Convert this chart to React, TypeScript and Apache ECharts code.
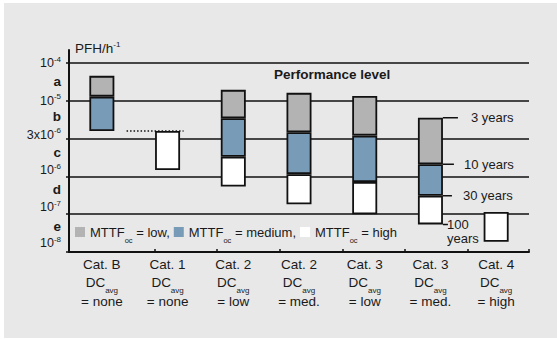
import React, { useEffect, useRef } from 'react';
import * as echarts from 'echarts';

// ---- data ----
const categories = ['Cat. B', 'Cat. 1', 'Cat. 2', 'Cat. 2', 'Cat. 3', 'Cat. 3', 'Cat. 4'];
const dcAvg = ['none', 'none', 'low', 'med.', 'low', 'med.', 'high'];
// positions on the PL scale: 0 = 10^-8, 1 = 10^-7, 2 = 10^-6, 3 = 3x10^-6, 4 = 10^-5, 5 = 10^-4
const barBottom = [3.2, 2.17, 1.73, 1.26, 1.0, 0.73, 0.27];
const highTop: (number | null)[] = [null, 3.2, 2.52, 2.06, 1.85, 1.49, 1.06];
const mediumTop: (number | null)[] = [4.11, null, 3.54, 3.17, 3.08, 2.32, null];
const lowTop: (number | null)[] = [4.66, null, 4.29, 4.21, 4.13, 3.55, null];

const yTickBases = ['10', '10', '10', '3x10', '10', '10'];
const yTickExps = ['-8', '-7', '-6', '-6', '-5', '-4'];
const plLetters = ['e', 'd', 'c', 'b', 'a'];

const legendNames = ['low', 'medium', 'high'];
const legendSuffix = ['= low,', '= medium,', '= high'];

const yearLabels = ['3 years', '10 years', '30 years', '100\nyears'];
const yearLevels = [3.55, 2.32, 1.49, 0.73];
const yearBarIndex = 5;
const dottedLevel = 3.2;
const dottedBarIndex = 1;

const xTickPositions = [0, 1.31, 2.25, 3.21, 4.17, 5.11, 6.07, 7];

// ---- style ----
const W = 557;
const H = 339;
const GRID = { left: 69, right: 28, top: 50, bottom: 87 };
const BAND_PX = (W - GRID.left - GRID.right) / categories.length;
const BAR_W = 25;
const HALF_BAR = BAR_W / 2 / BAND_PX;
const Y_MAX = 5.344;
const FONT = '"Liberation Sans", Arial, Helvetica, sans-serif';
const TXT = '#1a1a1a';
const LINE = '#111';
const COLORS: Record<string, string> = { low: '#b3b3b3', medium: '#789cb8', high: '#ffffff' };
const numOffsets = [9, 7, 6, 4, 0, 0];
const letterOffsets = [7, 5.5, 5, 3.3, 0];
const yearTickLen = [15, 11, 9, 5];
const yearLabelGap = [13, 10, 11, -1];
const yearLabelOffset: [number, number][] = [[0, 0], [0, 0], [0, 0], [0, 7]];
const dottedLeftPx = 41;
const dottedRightPx = 16;

function buildOption() {
  const heights = (tops: (number | null)[], below: (i: number) => number) =>
    tops.map((t, i) => (t == null ? '-' : +(t - below(i)).toFixed(3)));
  const highH = heights(highTop, (i) => barBottom[i]);
  const medH = heights(mediumTop, (i) => highTop[i] ?? barBottom[i]);
  const lowH = heights(lowTop, (i) => mediumTop[i] ?? highTop[i] ?? barBottom[i]);

  const yRich: Record<string, any> = {};
  yTickBases.forEach((_, i) => {
    yRich['n' + i] = { fontSize: 12.5, color: TXT, padding: [0, 0, 2 * numOffsets[i], 0] };
    yRich['s' + i] = { fontSize: 8, color: TXT, padding: [0, 0, 2 * (numOffsets[i] + 4), 0] };
  });
  plLetters.forEach((_, j) => {
    yRich['l' + j] = { fontSize: 13.5, fontWeight: 'bold', color: TXT, padding: [0, 0, 2 * letterOffsets[j], 0] };
  });

  const barSeries = (name: string, data: any[]) => ({
    type: 'bar',
    name,
    stack: 'pl',
    barWidth: BAR_W,
    xAxisIndex: 0,
    yAxisIndex: 0,
    itemStyle: { color: COLORS[name], borderColor: LINE, borderWidth: 1.8 },
    emphasis: { disabled: true },
    data,
  });

  const yearSeries = yearLevels.map((lv, i) => {
    const x0 = yearBarIndex + 0.5 + HALF_BAR;
    return {
      type: 'line',
      name: 'year' + i,
      xAxisIndex: 1,
      yAxisIndex: 0,
      symbol: 'none',
      silent: true,
      z: 3,
      lineStyle: { color: LINE, width: 1.5 },
      endLabel: {
        show: true,
        formatter: yearLabels[i],
        distance: yearLabelGap[i],
        offset: yearLabelOffset[i],
        fontSize: 13,
        lineHeight: 14,
        color: TXT,
        fontFamily: FONT,
      },
      data: [
        [x0, lv],
        [x0 + yearTickLen[i] / BAND_PX, lv],
      ],
    };
  });

  const dottedSeries = {
    type: 'line',
    name: 'dotted',
    xAxisIndex: 1,
    yAxisIndex: 0,
    symbol: 'none',
    silent: true,
    z: 3,
    lineStyle: { color: LINE, width: 1.5, type: [1.5, 2] },
    data: [
      [dottedBarIndex + 0.5 - dottedLeftPx / BAND_PX, dottedLevel],
      [dottedBarIndex + 0.5 + dottedRightPx / BAND_PX, dottedLevel],
    ],
  };

  return {
    animation: false,
    backgroundColor: 'transparent',
    textStyle: { fontFamily: FONT },
    title: [
      {
        text: 'Performance level',
        left: 274,
        top: 67,
        padding: 0,
        textStyle: { fontSize: 13.5, fontWeight: 'bold', color: TXT, fontFamily: FONT },
      },
      {
        text: 'PFH/h{sup|-1}',
        left: 75,
        top: 40,
        padding: 0,
        textStyle: {
          fontSize: 13.5,
          fontWeight: 'normal',
          color: TXT,
          fontFamily: FONT,
          rich: { sup: { fontSize: 8, color: TXT, padding: [0, 0, 9, 0] } },
        },
      },
    ],
    legend: {
      data: legendNames,
      left: 75,
      top: 220,
      padding: 0,
      itemGap: 4,
      itemWidth: 10,
      itemHeight: 10,
      icon: 'rect',
      itemStyle: { borderWidth: 0 },
      selectedMode: false,
      formatter: (name: string) => `MTTF{sub|oc} ${legendSuffix[legendNames.indexOf(name)]}`,
      textStyle: {
        fontSize: 13,
        color: TXT,
        fontFamily: FONT,
        lineHeight: 16,
        rich: { sub: { fontSize: 7.5, color: TXT, lineHeight: 10, padding: [16, 0, 0, 0] } },
      },
    },
    grid: { ...GRID, containLabel: false },
    xAxis: [
      {
        type: 'category',
        data: categories,
        axisLine: { lineStyle: { color: LINE, width: 2 } },
        axisTick: { show: false },
        splitLine: { show: false },
        axisLabel: {
          interval: 0,
          margin: 3,
          fontSize: 13.5,
          lineHeight: 18.5,
          color: TXT,
          fontFamily: FONT,
          formatter: (value: string, index: number) => `${value}\n{dc|DC}{sub|avg}\n= ${dcAvg[index]}`,
          rich: {
            dc: { fontSize: 13.5, lineHeight: 18.5, color: TXT },
            sub: { fontSize: 8, lineHeight: 10, color: TXT, padding: [16, 0, 0, 0] },
          },
        },
      },
      {
        type: 'value',
        min: 0,
        max: categories.length,
        position: 'bottom',
        axisLine: { show: false },
        splitLine: { show: false },
        axisLabel: { show: false },
        axisTick: {
          show: true,
          inside: true,
          length: 3,
          customValues: xTickPositions,
          lineStyle: { color: LINE, width: 1.5 },
        },
      },
    ],
    yAxis: {
      type: 'value',
      min: 0,
      max: Y_MAX,
      axisLine: { show: true, lineStyle: { color: LINE, width: 2 } },
      splitLine: { show: false },
      axisTick: {
        show: true,
        inside: false,
        length: 3,
        customValues: yTickBases.map((_, i) => i),
        lineStyle: { color: LINE, width: 1.5 },
      },
      axisLabel: {
        margin: 8,
        color: TXT,
        customValues: [0, 0.5, 1, 1.5, 2, 2.5, 3, 3.5, 4, 4.5, 5],
        formatter: (v: number) => {
          const k = Math.round(v * 2);
          if (k % 2 === 0) {
            const i = k / 2;
            return `{n${i}|${yTickBases[i]}}{s${i}|${yTickExps[i]}}`;
          }
          const j = (k - 1) / 2;
          return `{l${j}|${plLetters[j]}}`;
        },
        rich: yRich,
      },
    },
    series: [
      {
        type: 'bar',
        name: 'base',
        stack: 'pl',
        barWidth: BAR_W,
        silent: true,
        itemStyle: { color: 'transparent', borderWidth: 0 },
        data: barBottom,
        markLine: {
          silent: true,
          z: 1,
          symbol: ['none', 'none'],
          label: { show: false },
          lineStyle: { color: LINE, width: 1.5, type: 'solid' },
          data: yTickBases.map((_, i) => i).filter((i) => i > 0).map((i) => ({ yAxis: i })),
        },
      },
      barSeries('high', highH),
      barSeries('medium', medH),
      barSeries('low', lowH),
      dottedSeries,
      ...yearSeries,
    ],
  };
}

export default function App() {
  const ref = useRef<HTMLDivElement>(null);
  useEffect(() => {
    document.body.style.margin = '0';
    const chart = echarts.init(ref.current!, null, { renderer: 'svg' });
    chart.setOption(buildOption() as any);
    return () => chart.dispose();
  }, []);
  return (
    <div style={{ position: 'relative', width: W, height: H, background: '#ffffff' }}>
      <div style={{ position: 'absolute', left: 4, top: 3, width: W - 4, height: H - 4, background: '#e8e8e8' }} />
      <div ref={ref} style={{ position: 'absolute', left: 0, top: 0, width: W, height: H }} />
    </div>
  );
}
